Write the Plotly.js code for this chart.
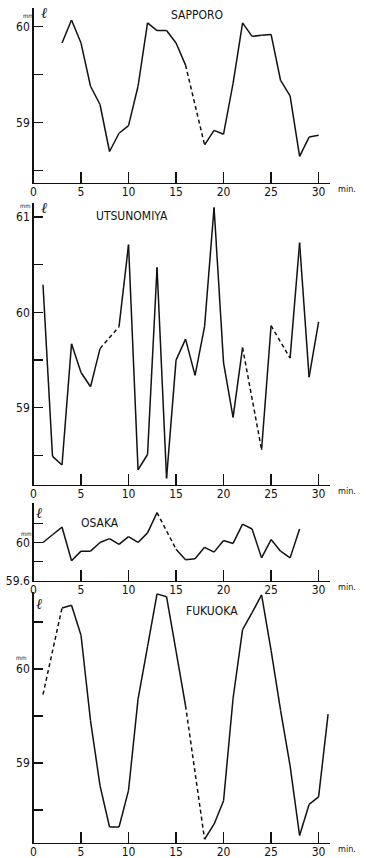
<!DOCTYPE html>
<html>
<head>
<meta charset="utf-8">
<script src="https://cdn.plot.ly/plotly-3.0.1.min.js"></script>
<style>html,body{margin:0;padding:0;background:#fff;}#chart{width:367px;height:858px;}</style>
</head>
<body>
<div id="chart"></div>
<script>
// Data (minutes, level in mm). Missing minutes are bridged with a dashed line.
const sapporoMin = [3,4,5,6,7,8,9,10,11,12,13,14,15,16,18,19,20,21,22,23,24,25,26,27,28,29,30];
const sapporoVal = [59.83,60.07,59.83,59.38,59.19,58.70,58.89,58.97,59.38,60.04,59.96,59.96,59.83,59.60,58.77,58.92,58.88,59.41,60.04,59.90,59.91,59.92,59.44,59.28,58.65,58.85,58.87];

const utsuMin = [1,2,3,4,5,6,7,9,10,11,12,13,14,15,16,17,18,19,20,21,22,24,25,27,28,29,30];
const utsuVal = [60.29,58.49,58.40,59.67,59.37,59.22,59.62,59.85,60.71,58.35,58.51,60.47,58.26,59.50,59.72,59.34,59.85,61.10,59.47,58.90,59.63,58.56,59.86,59.52,60.73,59.32,59.90];

const osakaMin = [1,2,3,4,5,6,7,8,9,10,11,12,13,15,16,17,18,19,20,21,22,23,24,25,26,27,28];
const osakaVal = [60.00,60.08,60.16,59.81,59.91,59.91,60.00,60.04,59.98,60.06,60.00,60.10,60.31,59.93,59.82,59.83,59.95,59.90,60.02,59.99,60.19,60.14,59.84,60.03,59.91,59.84,60.14];

const fukuokaMin = [1,3,4,5,6,7,8,9,10,11,12,13,14,15,16,18,19,20,21,22,23,24,25,26,27,28,29,30,31];
const fukuokaVal = [59.73,60.65,60.68,60.36,59.45,58.76,58.32,58.32,58.71,59.68,60.24,60.80,60.77,60.19,59.61,58.19,58.35,58.60,59.69,60.42,60.60,60.79,60.20,59.56,58.97,58.23,58.56,58.64,59.52];

const xTicks = [0,5,10,15,20,25,30];
const xTickText = ["0","5","10","15","20","25","30"];

const sapporoYTicks = [58.5,59,59.5,60];
const sapporoYText = ["","59","","60"];
const utsuYTicks = [58.5,59,59.5,60,60.5,61];
const utsuYText = ["","59","","60","","61"];
const osakaYTicks = [59.6,59.8,60,60.2];
const osakaYText = ["59.6","","60",""];
const fukuokaYTicks = [58.5,59,59.5,60,60.5];
const fukuokaYText = ["","59","","60",""];

const FONT = "'Liberation Sans Narrow','DejaVu Sans Condensed','Liberation Sans',sans-serif";
const W = 367, H = 858;
const px = v => v / W;
const py = v => 1 - v / H;

function buildTraces(mins, vals, xa, ya) {
  const sx = [], sy = [], dx = [], dy = [];
  for (let i = 0; i < mins.length - 1; i++) {
    const dashed = mins[i + 1] - mins[i] > 1;
    const tx = dashed ? dx : sx, ty = dashed ? dy : sy;
    tx.push(mins[i], mins[i + 1], null);
    ty.push(vals[i], vals[i + 1], null);
  }
  const common = {mode: 'lines', xaxis: xa, yaxis: ya, hoverinfo: 'skip', showlegend: false};
  return [
    Object.assign({x: sx, y: sy, line: {color: '#111', width: 1.5}}, common),
    Object.assign({x: dx, y: dy, line: {color: '#111', width: 1.5, dash: '4px,3px'}}, common)
  ];
}

const data = [].concat(
  buildTraces(sapporoMin, sapporoVal, 'x', 'y'),
  buildTraces(utsuMin, utsuVal, 'x2', 'y2'),
  buildTraces(osakaMin, osakaVal, 'x3', 'y3'),
  buildTraces(fukuokaMin, fukuokaVal, 'x4', 'y4')
);

const xDomain = [px(33.5), px(330)];
function xAxis(anchor) {
  return {
    domain: xDomain, anchor: anchor, range: [0, 31.2],
    showline: true, linecolor: '#111', linewidth: 1.3,
    ticks: 'inside', ticklen: 11, tickwidth: 1.3, tickcolor: '#111',
    tickvals: xTicks, ticktext: xTickText,
    showgrid: false, zeroline: false,
    ticklabelstandoff: -3,
    tickfont: {family: FONT, size: 12, color: '#111'}
  };
}
function yAxis(anchor, top, bottom, range, tv, tt) {
  return {
    domain: [py(bottom), py(top)], anchor: anchor, range: range,
    showline: true, linecolor: '#111', linewidth: 1.3,
    ticks: 'inside', ticklen: 9, tickwidth: 1.2, tickcolor: '#111',
    tickvals: tv, ticktext: tt,
    showgrid: false, zeroline: false,
    tickfont: {family: FONT, size: 12, color: '#111'}
  };
}

function txt(text, x, y, size, extra) {
  return Object.assign({
    text: text, xref: 'paper', yref: 'paper', x: px(x), y: py(y),
    showarrow: false, xanchor: 'center', yanchor: 'middle',
    font: {family: FONT, size: size, color: '#111'}
  }, extra || {});
}
const ellFont = {family: "'DejaVu Serif',serif", size: 15, color: '#111'};

const annotations = [
  txt('SAPPORO', 197, 15, 12),
  txt('UTSUNOMIYA', 132, 216, 12),
  txt('OSAKA', 100, 523, 12),
  txt('FUKUOKA', 212, 611, 12),
  txt('<i>ℓ</i>', 44, 13, 15, {font: ellFont}),
  txt('<i>ℓ</i>', 44, 208, 15, {font: ellFont}),
  txt('<i>ℓ</i>', 39, 513, 15, {font: ellFont}),
  txt('<i>ℓ</i>', 39, 604, 15, {font: ellFont}),
  txt('mm', 28, 15, 6),
  txt('mm', 25, 206, 6),
  txt('mm', 26, 533, 6),
  txt('mm', 21, 657, 6),
  txt('min.', 347, 189, 9),
  txt('min.', 347, 491, 9),
  txt('min.', 347, 587, 9),
  txt('min.', 347, 849, 9)
];

const layout = {
  width: W, height: H,
  margin: {l: 0, r: 0, t: 0, b: 0},
  paper_bgcolor: '#fff', plot_bgcolor: '#fff',
  showlegend: false,
  xaxis: xAxis('y'),
  xaxis2: xAxis('y2'),
  xaxis3: xAxis('y3'),
  xaxis4: xAxis('y4'),
  yaxis: yAxis('x', 8, 183, [58.372, 60.195], sapporoYTicks, sapporoYText),
  yaxis2: yAxis('x2', 203, 485, [58.19, 61.147], utsuYTicks, utsuYText),
  yaxis3: yAxis('x3', 503, 581, [59.6, 60.41], osakaYTicks, osakaYText),
  yaxis4: yAxis('x4', 592, 843, [58.15, 60.82], fukuokaYTicks, fukuokaYText),
  annotations: annotations
};

Plotly.newPlot('chart', data, layout, {staticPlot: true, displayModeBar: false});
</script>
</body>
</html>
